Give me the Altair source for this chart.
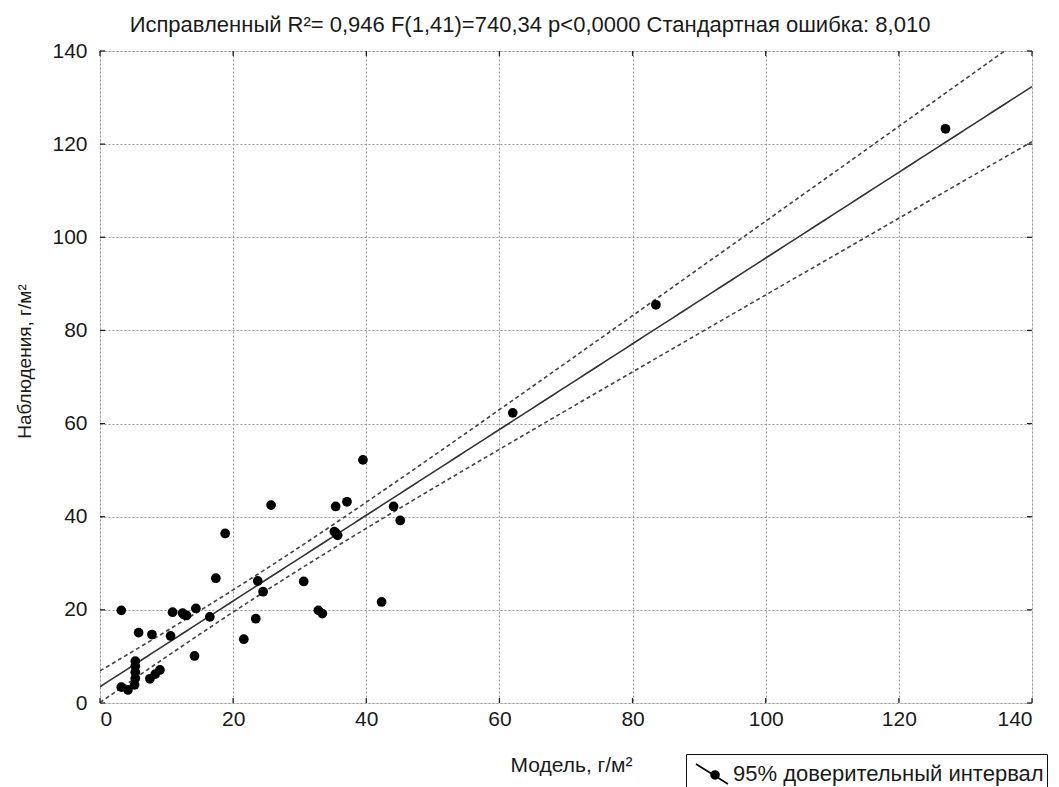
import altair as alt
import pandas as pd
import numpy as np

model = [3.2, 5.8, 7.8, 10.6, 10.9, 12.4, 13.0, 14.4, 14.2, 16.5, 17.4, 18.8, 21.6, 23.4,
         23.7, 24.5, 25.7, 30.6, 32.8, 33.4, 35.2, 35.7, 35.4, 37.1, 42.3, 44.1, 45.1,
         39.5, 62.0, 83.5, 127.0,
         3.2, 4.2, 5.2, 5.3, 5.3, 5.3, 5.3, 7.5, 8.3, 9.0, 12.6, 35.5]
observed = [19.9, 15.1, 14.7, 14.4, 19.5, 19.3, 18.8, 20.3, 10.1, 18.5, 26.8, 36.4, 13.7, 18.1,
            26.2, 23.9, 42.5, 26.1, 19.9, 19.2, 36.8, 36.0, 42.2, 43.2, 21.7, 42.2, 39.2,
            52.2, 62.3, 85.5, 123.3,
            3.4, 2.8, 3.9, 5.3, 6.6, 7.9, 9.0, 5.2, 6.2, 7.1, 19.0, 36.4]

title_text = "Исправленный R²= 0,946 F(1,41)=740,34 p<0,0000 Стандартная ошибка: 8,010"
x_title = "Модель, г/м²"
y_title = "Наблюдения, г/м²"
legend_label = "95% доверительный интервал"
axis_ticks = [0, 20, 40, 60, 80, 100, 120, 140]

pts = pd.DataFrame({"x": model, "y": observed, "lbl": legend_label})
ticks_df = pd.DataFrame({"t": axis_ticks})

# linear fit and 95% confidence band of the mean (derived from the data)
xa = np.array(model)
ya = np.array(observed)
n = len(xa)
b, a = np.polyfit(xa, ya, 1)
resid = ya - (a + b * xa)
s = np.sqrt(np.sum(resid ** 2) / (n - 2))
sxx = np.sum((xa - xa.mean()) ** 2)
t975 = 2.0195
grid = np.linspace(0, 140, 141)
fit = a + b * grid
half = t975 * s * np.sqrt(1.0 / n + (grid - xa.mean()) ** 2 / sxx)
fitdf = pd.DataFrame({"x": grid, "fit": fit, "lo": fit - half, "hi": fit + half})

W, H = 932, 652
xs = alt.Scale(domain=[0, 140], nice=False, zero=False)
ys = alt.Scale(domain=[0, 140], nice=False, zero=False)
font = "Liberation Sans"
ink = "#1a1a1a"

xaxis = alt.Axis(values=axis_ticks, title=x_title, grid=True, gridDash=[2, 2],
                 gridColor="#9a9a9a", gridWidth=1, ticks=False, domain=False,
                 labelFontSize=21, labelPadding=5, titleFontSize=21,
                 titleFontWeight="normal", titlePadding=25, titleX=471,
                 labelFont=font, titleFont=font, labelColor=ink, titleColor=ink)
yaxis = alt.Axis(values=axis_ticks, title=y_title, grid=True, gridDash=[2, 2],
                 gridColor="#9a9a9a", gridWidth=1, ticks=False, domain=False,
                 labelFontSize=21, labelPadding=13, titleFontSize=19,
                 titleFontWeight="normal", titlePadding=17, titleY=310,
                 labelFont=font, titleFont=font, labelColor=ink, titleColor=ink)

base_fit = alt.Chart(fitdf)
line = base_fit.mark_line(color="#333", strokeWidth=1.6, clip=True).encode(
    x=alt.X("x:Q", scale=xs, axis=xaxis), y=alt.Y("fit:Q", scale=ys, axis=yaxis))
lo = base_fit.mark_line(color="#444", strokeWidth=1.6, strokeDash=[4, 3], clip=True).encode(
    x=alt.X("x:Q", scale=xs), y=alt.Y("lo:Q", scale=ys))
hi = base_fit.mark_line(color="#444", strokeWidth=1.6, strokeDash=[4, 3], clip=True).encode(
    x=alt.X("x:Q", scale=xs), y=alt.Y("hi:Q", scale=ys))

# inward tick marks on all four sides of the frame
tk = alt.Chart(ticks_df)
tick_bottom = tk.mark_rule(color="#222", strokeWidth=1.3).encode(
    x=alt.X("t:Q", scale=xs), y=alt.value(H), y2=alt.value(H - 5))
tick_top = tk.mark_rule(color="#222", strokeWidth=1.3).encode(
    x=alt.X("t:Q", scale=xs), y=alt.value(0), y2=alt.value(5))
tick_left = tk.mark_rule(color="#222", strokeWidth=1.3).encode(
    y=alt.Y("t:Q", scale=ys), x=alt.value(0), x2=alt.value(5))
tick_right = tk.mark_rule(color="#222", strokeWidth=1.3).encode(
    y=alt.Y("t:Q", scale=ys), x=alt.value(W), x2=alt.value(W - 5))

sym = ("M-1,-0.625L1,0.625"
       "M0.44,0.06A0.25,0.25,0,1,1,-0.06,0.06A0.25,0.25,0,1,1,0.44,0.06Z")
points = alt.Chart(pts).mark_point(filled=True, size=95, opacity=1, clip=True).encode(
    x=alt.X("x:Q", scale=xs),
    y=alt.Y("y:Q", scale=ys),
    color=alt.Color("lbl:N", scale=alt.Scale(range=["black"]),
                    legend=alt.Legend(title=None, orient="none", legendX=586, legendY=703,
                                      symbolType=sym, symbolSize=1024, symbolOffset=6,
                                      symbolStrokeColor="black", symbolStrokeWidth=1.6,
                                      symbolFillColor="black", symbolOpacity=1,
                                      labelFontSize=22, labelFont=font, labelColor=ink,
                                      labelLimit=0, labelOffset=4,
                                      strokeColor="#111", fillColor="white",
                                      padding=3)),
)

chart = alt.layer(line, lo, hi, tick_bottom, tick_top, tick_left, tick_right, points).properties(
    width=W, height=H,
    title=alt.TitleParams(title_text, fontSize=22, font=font, fontWeight="normal",
                          color=ink, dx=-36, offset=3, frame="group"),
    autosize=alt.AutoSizeParams(type="none"),
    padding={"left": 92, "top": 43, "right": 19, "bottom": 84},
).configure_view(stroke="#222", strokeWidth=1.5).configure(background="white")

chart.save("out.html", embed_options={"renderer": "svg", "actions": False})
